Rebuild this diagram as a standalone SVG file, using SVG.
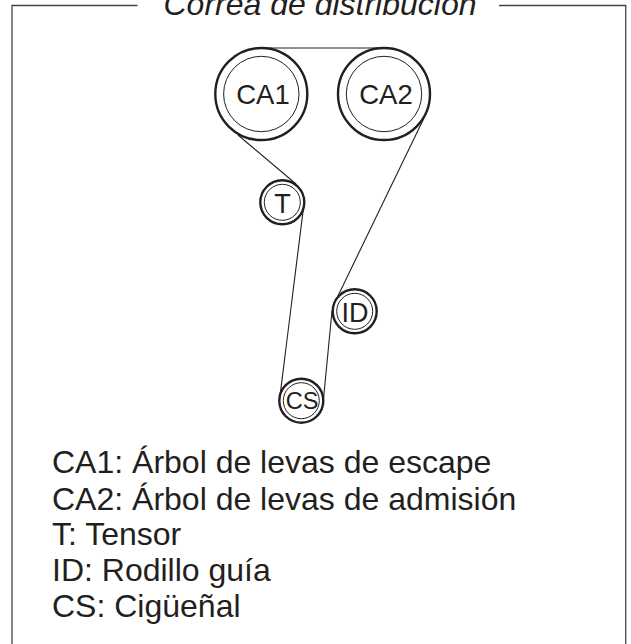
<svg xmlns="http://www.w3.org/2000/svg" width="631" height="644" viewBox="0 0 631 644">
<style>
text{font-family:"Liberation Sans",Arial,sans-serif;fill:#231f20}
.o{fill:none;stroke:#231f20;stroke-width:2.4}
.i{fill:none;stroke:#231f20;stroke-width:1}
.b{fill:none;stroke:#231f20;stroke-width:1.1}
.f{fill:none;stroke:#444;stroke-width:1.3}
.l{font-size:32px}
.n{text-anchor:middle}
</style>
<rect width="631" height="644" fill="#fff"/>
<path class="f" d="M137.5 5.5H12V644M499 5.5H625.7V644"/>
<text x="320" y="14.5" font-size="32" font-style="italic" text-anchor="middle">Correa de distribución</text>
<g id="connectors">
<path class="b" d="M260 48H384"/>
<path class="b" d="M238 135L296 184"/>
<path class="b" d="M303.8 205L279.5 400"/>
<path class="b" d="M424 118L337 298"/>
<path class="b" d="M332 311L323 404"/>
</g>
<g id="CA1"><circle class="o" cx="261.3" cy="94" r="46"/><circle class="i" cx="261.3" cy="94" r="37.7"/><text class="n" x="263" y="104" font-size="27.5">CA1</text></g>
<g id="CA2"><circle class="o" cx="384" cy="94" r="46"/><circle class="i" cx="384" cy="94" r="37.7"/><text class="n" x="386" y="104" font-size="27.5">CA2</text></g>
<g id="T"><circle class="o" cx="282.3" cy="202.3" r="22"/><circle class="i" cx="282.3" cy="202.3" r="18"/><text class="n" x="282.5" y="213" font-size="27">T</text></g>
<g id="ID"><circle class="o" cx="354.7" cy="311.3" r="22"/><circle class="i" cx="354.7" cy="311.3" r="18"/><text class="n" x="355" y="321.5" font-size="27">ID</text></g>
<g id="CS"><circle class="o" cx="301.3" cy="400.7" r="22"/><circle class="i" cx="301.3" cy="400.7" r="18"/><text class="n" x="302" y="408.7" font-size="23.5">CS</text></g>
<g id="legend">
<text class="l" x="52" y="473">CA1: Árbol de levas de escape</text>
<text class="l" x="52" y="509.5">CA2: Árbol de levas de admisión</text>
<text class="l" x="52" y="545">T: Tensor</text>
<text class="l" x="52" y="581">ID: Rodillo guía</text>
<text class="l" x="52" y="616.5">CS: Cigüeñal</text>
</g>
</svg>
